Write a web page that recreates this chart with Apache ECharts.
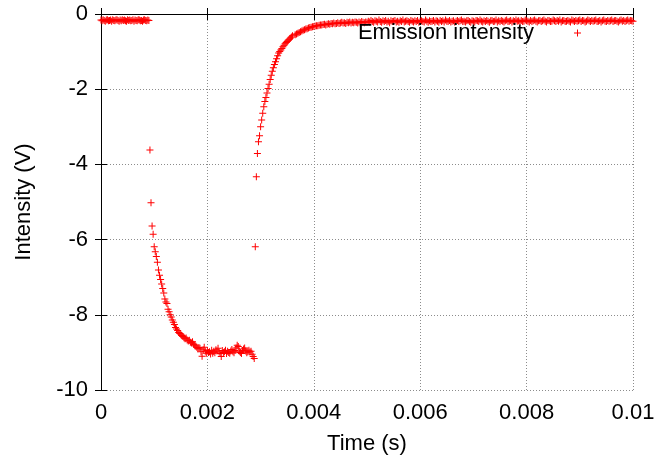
<!DOCTYPE html>
<html>
<head>
<meta charset="utf-8">
<script src="https://cdn.jsdelivr.net/npm/echarts@6/dist/echarts.min.js"></script>
<style>html,body{margin:0;padding:0;background:#fff;}#c{width:660px;height:466px;}</style>
</head>
<body>
<div id="c"></div>
<script>
// Axis ticks
const xTicks = [0, 0.002, 0.004, 0.006, 0.008, 0.01];
const yTicks = [-10, -8, -6, -4, -2, 0];

// Baseline before the pulse (sampled every 20 us from t = 0)
const baselineStart = 0;
const baselineStep = 2e-5;
const baselineValues = [
  -0.16,-0.18,-0.15,-0.17,-0.19,-0.16,-0.15,-0.18,-0.17,-0.16,
  -0.19,-0.15,-0.17,-0.18,-0.16,-0.15,-0.17,-0.19,-0.16,-0.18,
  -0.15,-0.17,-0.16,-0.18,-0.19,-0.15,-0.17,-0.16,-0.18,-0.17,
  -0.15,-0.19,-0.16,-0.17,-0.18,-0.15,-0.16,-0.18,-0.17,-0.19,
  -0.16,-0.15,-0.17,-0.18,-0.16,-0.17
];

// Pulse: drop, plateau and recovery (sampled every 20 us from t = 0.00092)
const pulseStart = 0.00092;
const pulseStep = 2e-5;
const pulseValues = [
  // drop and decay
  -3.62,-5.02,-5.64,-5.86,-6.19,-6.32,-6.45,-6.60,-6.81,-6.95,
  -7.06,-7.18,-7.30,-7.42,-7.58,-7.66,-7.70,-7.85,-7.92,-8.00,
  -8.06,-8.14,-8.20,-8.26,-8.34,-8.38,-8.42,-8.47,-8.50,-8.52,
  -8.55,-8.58,-8.61,-8.64,-8.62,-8.67,-8.70,-8.68,-8.73,-8.75,
  -8.72,-8.78,-8.80,-8.83,-8.86,
  // plateau
  -8.90,-8.87,-8.89,-8.98,-9.10,-8.93,-8.86,-8.97,-9.02,-8.95,
  -9.00,-8.98,-9.04,-8.94,-9.02,-8.97,-9.01,-8.93,-8.96,-8.89,
  -8.99,-9.03,-9.11,-8.95,-9.00,-8.98,-8.94,-9.03,-8.97,-9.00,
  -9.02,-8.96,-8.92,-8.98,-9.01,-8.95,-8.88,-8.81,-8.84,-8.97,
  -9.00,-9.03,-8.95,-8.91,-8.88,-8.96,-9.01,-8.98,-8.94,-8.99,
  -8.97,-9.05,-9.11,-9.16,
  // recovery
  -6.19,-4.33,-3.71,-3.40,-3.24,-3.00,-2.82,-2.64,-2.47,-2.33,
  -2.22,-2.10,-1.98,-1.87,-1.74,-1.63,-1.52,-1.43,-1.34,-1.27,
  -1.19,-1.11,-1.04,-1.00,-0.96,-0.92,-0.87,-0.83,-0.79,-0.76,
  -0.73,-0.70,-0.67,-0.64,-0.61,-0.58
];

// Tail after recovery (sampled every 25 us from t = 0.00365)
const tailStart = 0.00365;
const tailStep = 2.5e-5;
const tailValues = [
  -0.55,-0.53,-0.51,-0.49,-0.47,-0.45,-0.43,-0.42,-0.40,-0.39,
  -0.37,-0.36,-0.35,-0.34,-0.33,-0.32,-0.31,-0.31,-0.30,-0.29,
  -0.29,-0.28,-0.27,-0.29,-0.27,-0.26,-0.27,-0.25,-0.26,-0.24,
  -0.26,-0.25,-0.23,-0.25,-0.24,-0.22,-0.24,-0.23,-0.25,-0.22,
  -0.23,-0.21,-0.24,-0.22,-0.23,-0.21,-0.22,-0.24,-0.21,-0.23,
  -0.20,-0.22,-0.23,-0.21,-0.22,
  -0.19,-0.21,-0.17,-0.20,-0.22,-0.18,-0.19,-0.21,-0.16,-0.20,
  -0.22,-0.18,-0.20,-0.17,-0.21,-0.19,-0.23,-0.18,-0.20,-0.19,
  -0.17,-0.21,-0.19,-0.22,-0.18,-0.20,-0.16,-0.21,-0.19,-0.18,
  -0.20,-0.22,-0.17,-0.19,-0.21,-0.18,-0.20,-0.17,-0.22,-0.19,
  -0.18,-0.20,-0.21,-0.16,-0.19,-0.22,-0.18,-0.20,-0.19,-0.17,
  -0.21,-0.18,-0.19,-0.22,-0.17,-0.20,-0.18,-0.21,-0.16,-0.19,
  -0.20,-0.17,-0.21,-0.19,-0.18,-0.22,-0.19,-0.17,-0.20,-0.18,
  -0.16,-0.20,-0.19,-0.21,-0.18,-0.17,-0.20,-0.22,-0.18,-0.19,
  -0.21,-0.17,-0.18,-0.20,-0.16,-0.19,-0.21,-0.18,-0.20,-0.17,
  -0.19,-0.22,-0.18,-0.17,-0.20,-0.19,-0.16,-0.21,-0.18,-0.20,
  -0.17,-0.19,-0.21,-0.18,-0.16,-0.20,-0.19,-0.17,-0.21,-0.18,
  -0.20,-0.16,-0.19,-0.18,-0.21,-0.17,-0.20,-0.19,-0.16,-0.18,
  -0.19,-0.21,-0.17,-0.20,-0.18,-0.16,-0.19,-0.21,-0.18,-0.17,
  -0.20,-0.18,-0.16,-0.19,-0.21,-0.17,-0.18,-0.20,-0.19,-0.16,
  -0.18,-0.20,-0.17,-0.19,-0.16,-0.21,-0.18,-0.17,-0.20,-0.19,
  -0.17,-0.19,-0.21,-0.16,-0.18,-0.20,-0.17,-0.19,-0.18,-0.16,
  -0.20,-0.17,-0.18,-0.21,-0.19,-0.16,-0.18,-0.20,-0.17,-0.19,
  -0.18,-0.16,-0.20,-0.19,-0.17,-0.21,-0.18,-0.16,-0.19,-0.20,
  -0.17,-0.19,-0.18,-0.16,-0.20,-0.18,-0.17,-0.19,-0.21,-0.18,
  -0.16,-0.19,-0.17,-0.20,-0.18,-0.16,-0.19,-0.17,-0.18,-0.19
];

const seriesName = 'Emission intensity';
const xTitle = 'Time (s)';
const yTitle = 'Intensity (V)';

function toPoints(start, step, values) {
  return values.map((v, i) => [+(start + i * step).toFixed(7), v]);
}
const data = []
  .concat(toPoints(baselineStart, baselineStep, baselineValues))
  .concat(toPoints(pulseStart, pulseStep, pulseValues))
  .concat(toPoints(tailStart, tailStep, tailValues));

const plus = 'path://M3,0H4V3H7V4H4V7H3V4H0V3H3Z';
const FONT = 'Liberation Sans';
const FS = 22;

const chart = echarts.init(document.getElementById('c'), null, {renderer: 'canvas'});
const xMin = xTicks[0], xMax = xTicks[xTicks.length - 1];
const yMin = yTicks[0], yMax = yTicks[yTicks.length - 1];
const xInt = xTicks[1] - xTicks[0], yInt = yTicks[1] - yTicks[0];

const frameLine = {show: true, lineStyle: {color: '#000', width: 1}};
const inTick = {show: true, inside: true, length: 6, lineStyle: {color: '#000', width: 1}};
const grid = {show: true, lineStyle: {color: '#8c8c8c', width: 1, type: [1, 2]}};

chart.setOption({
  animation: false,
  backgroundColor: '#fff',
  textStyle: {fontFamily: FONT},
  grid: {left: 101, right: 27, top: 14, bottom: 76, containLabel: false},
  legend: {
    data: [seriesName],
    right: 74,
    top: 17,
    align: 'right',
    icon: plus,
    itemWidth: 7,
    itemHeight: 7,
    itemStyle: {color: '#ff0000'},
    textStyle: {fontFamily: FONT, fontSize: FS, color: '#000', padding: [0, 35, 0, 0]}
  },
  xAxis: [{
    type: 'value', min: xMin, max: xMax, interval: xInt, position: 'bottom',
    name: xTitle, nameLocation: 'middle', nameGap: 43,
    nameTextStyle: {fontFamily: FONT, fontSize: FS, color: '#000'},
    axisLine: frameLine, axisTick: inTick, splitLine: grid,
    axisLabel: {fontFamily: FONT, fontSize: FS, color: '#000', margin: 12,
      formatter: v => String(+v.toFixed(4))}
  }, {
    type: 'value', min: xMin, max: xMax, interval: xInt, position: 'top',
    axisLine: frameLine, axisTick: inTick, splitLine: {show: false},
    axisLabel: {show: false}
  }],
  yAxis: [{
    type: 'value', min: yMin, max: yMax, interval: yInt, position: 'left',
    name: yTitle, nameLocation: 'middle', nameGap: 66, nameRotate: 90,
    nameTextStyle: {fontFamily: FONT, fontSize: FS, color: '#000'},
    axisLine: frameLine, axisTick: inTick, splitLine: grid,
    axisLabel: {fontFamily: FONT, fontSize: FS, color: '#000', margin: 13}
  }, {
    type: 'value', min: yMin, max: yMax, interval: yInt, position: 'right',
    axisLine: frameLine, axisTick: inTick, splitLine: {show: false},
    axisLabel: {show: false}
  }],
  series: [{
    name: seriesName,
    type: 'scatter',
    xAxisIndex: 0, yAxisIndex: 0,
    data: data,
    symbol: plus,
    symbolSize: 7,
    clip: false,
    itemStyle: {color: '#ff0000', opacity: 1},
    emphasis: {disabled: true}
  }]
});
</script>
</body>
</html>
